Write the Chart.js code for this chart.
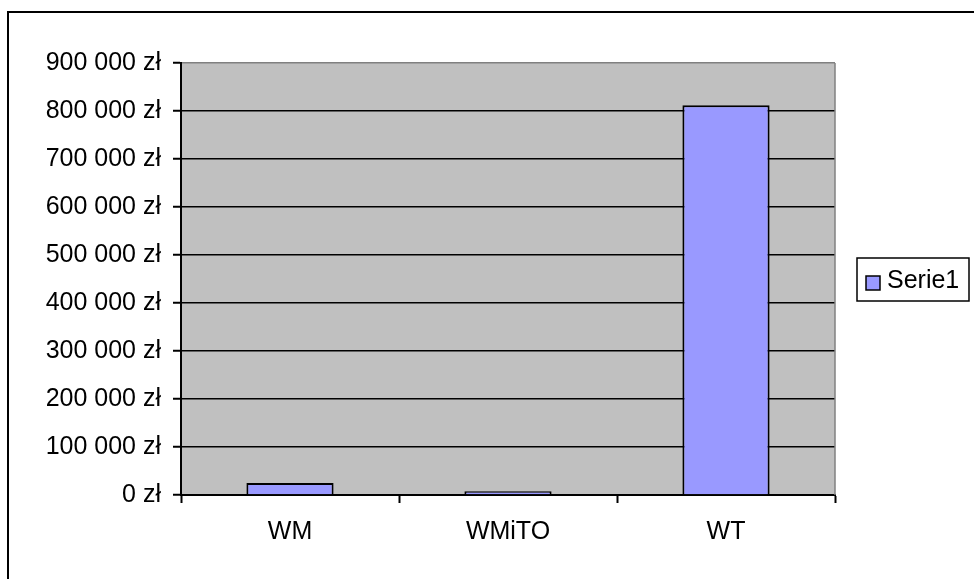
<!DOCTYPE html>
<html>
<head>
<meta charset="utf-8">
<title>Serie1</title>
<script src="https://cdn.jsdelivr.net/npm/chart.js@4.4.1/dist/chart.umd.min.js"></script>
<style>
    html, body { margin: 0; padding: 0; background: #fff; }
    #chart__holder { width: 974px; height: 579px; }
</style>
</head>
<body>
<div id="chart__holder"><canvas id="costBarChart" width="974" height="579"></canvas></div>
<script>
// data
var lsLabel = ['WM', 'WMiTO', 'WT'];
var lsValue = [25000, 8000, 812000];
var seriesName = 'Serie1';
var yMax = 900000;
var yStep = 100000;

var FONT = "'Liberation Sans', Arial, sans-serif";

// "900 000 zł"
function formatZl(v) {
    var s = String(Math.round(v));
    var out = '';
    while (s.length > 3) {
        out = ' ' + s.slice(-3) + out;
        s = s.slice(0, -3);
    }
    return s + out + ' zł';
}

// tło wykresu + ramki
var framePlugin = {
    id: 'frame',
    beforeDraw: function (chart) {
        var c = chart.ctx, a = chart.chartArea;
        c.save();
        c.fillStyle = '#fff';
        c.fillRect(0, 0, chart.width, chart.height);
        c.strokeStyle = '#000';
        c.lineWidth = 2;
        c.beginPath();
        c.moveTo(8, chart.height);
        c.lineTo(8, 12);
        c.lineTo(chart.width, 12);
        c.stroke();
        c.fillStyle = '#c0c0c0';
        c.fillRect(a.left, a.top, a.right - a.left, a.bottom - a.top);
        c.restore();
    },
    afterDatasetsDraw: function (chart) {
        var c = chart.ctx, a = chart.chartArea;
        c.save();
        c.strokeStyle = '#808080';
        c.lineWidth = 1.5;
        c.beginPath();
        c.moveTo(a.right, a.top);
        c.lineTo(a.right, a.bottom);
        c.stroke();
        c.restore();
    }
};

// legenda z ramką
var legendPlugin = {
    id: 'boxLegend',
    afterDraw: function (chart) {
        var c = chart.ctx;
        var ds = chart.data.datasets[0];
        c.save();
        c.fillStyle = '#fff';
        c.fillRect(857, 258, 112, 43);
        c.strokeStyle = '#000';
        c.lineWidth = 1.5;
        c.strokeRect(857, 258, 112, 43);
        c.fillStyle = ds.backgroundColor;
        c.fillRect(866, 276, 14, 14);
        c.lineWidth = 1.5;
        c.strokeRect(866, 276, 14, 14);
        c.fillStyle = '#000';
        c.font = '25px ' + FONT;
        c.textBaseline = 'middle';
        c.textAlign = 'left';
        c.fillText(ds.label, 887, 281);
        c.restore();
    }
};

var ctx = document.getElementById('costBarChart');
var chartData = {
    labels: lsLabel,
    datasets: [
        {
            label: seriesName,
            backgroundColor: '#9999ff',
            borderColor: '#000',
            borderWidth: 2,
            categoryPercentage: 1,
            barPercentage: 0.4,
            data: lsValue
        }
    ]
};

var costChart = new Chart(ctx, {
    type: 'bar',
    data: chartData,
    options: {
        responsive: false,
        animation: false,
        devicePixelRatio: 1,
        layout: { padding: { left: 0, top: 63, right: 139, bottom: 0 } },
        plugins: {
            legend: { display: false },
            tooltip: { enabled: false }
        },
        scales: {
            x: {
                afterFit: function (scale) { scale.height = 84; },
                grid: {
                    offset: true,
                    drawOnChartArea: false,
                    tickLength: 8,
                    tickColor: '#000',
                    tickWidth: 2
                },
                border: { color: '#000', width: 2 },
                ticks: {
                    color: '#000',
                    padding: 14,
                    font: { family: FONT, size: 25 }
                }
            },
            y: {
                min: 0,
                max: yMax,
                afterFit: function (scale) { scale.width = 181; },
                grid: {
                    color: function (c) { return c.tick && c.tick.value === yMax ? '#808080' : '#000'; },
                    lineWidth: 1.5,
                    tickLength: 8,
                    tickColor: '#000',
                    tickWidth: 2
                },
                border: { color: '#000', width: 2 },
                ticks: {
                    stepSize: yStep,
                    color: '#000',
                    padding: 12,
                    font: { family: FONT, size: 25 },
                    callback: function (v) { return formatZl(v); }
                }
            }
        }
    },
    plugins: [framePlugin, legendPlugin]
});
</script>
</body>
</html>
